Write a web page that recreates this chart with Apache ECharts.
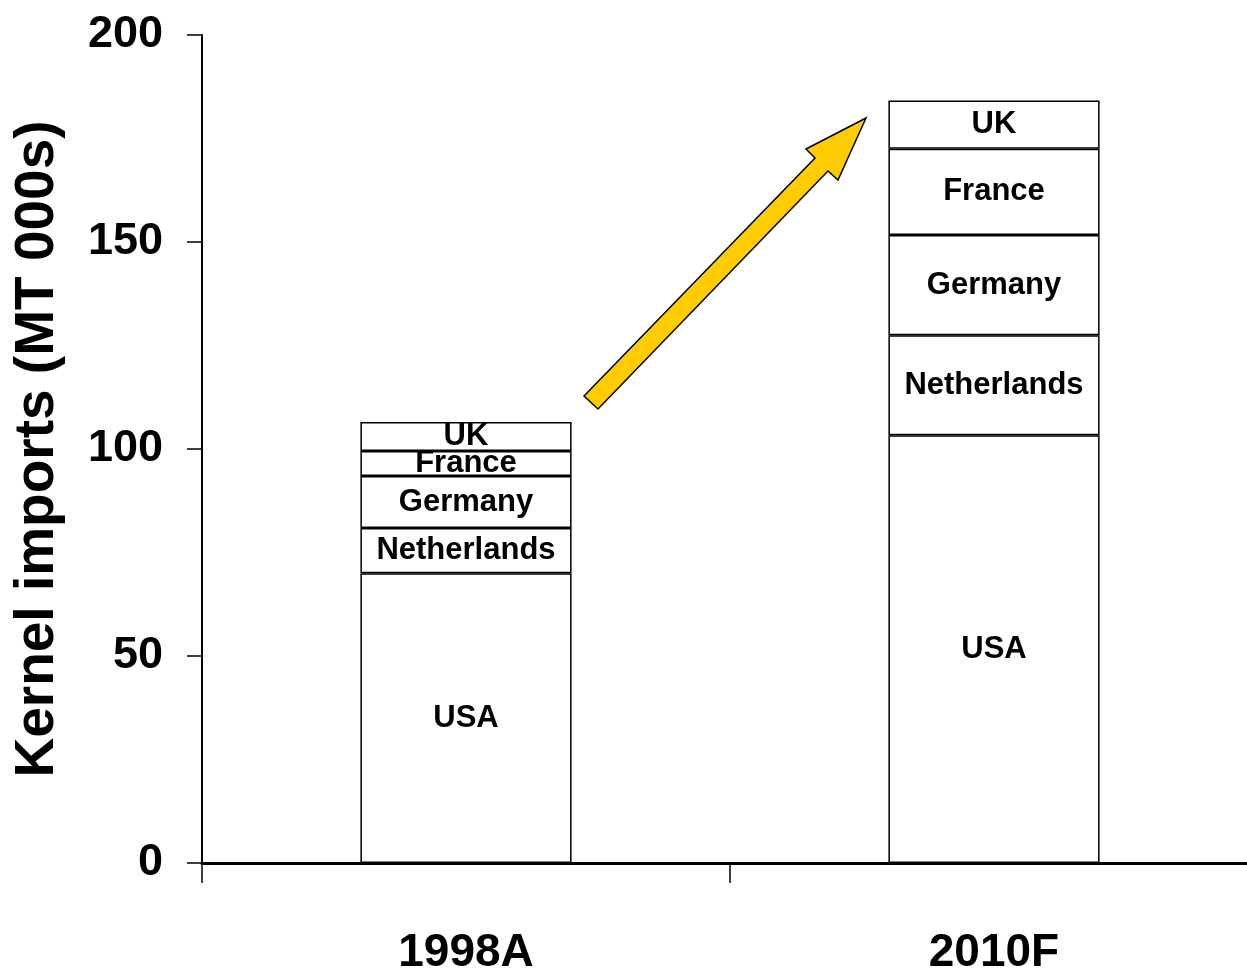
<!DOCTYPE html>
<html>

<head>
    <meta charset="UTF-8" />
    <title>Kernel imports</title>
    <script src="https://cdn.jsdelivr.net/npm/echarts@6/dist/echarts.min.js"></script>
    <style>
        html, body { margin: 0; padding: 0; background: #fff; }
        #main { width: 1247px; height: 974px; }
    </style>
</head>

<body>
    <div id="main"></div>
    <script>
    // data (MT 000s)
    var years = ['1998A', '2010F'];
    var countries = ['USA', 'Netherlands', 'Germany', 'France', 'UK'];
    var usa = [70.0, 103.3];
    var netherlands = [10.9, 24.2];
    var germany = [12.6, 24.2];
    var france = [6.0, 20.8];
    var uk = [7.0, 11.7];
    var yTicks = [0, 50, 100, 150, 200];

    var font = '"Liberation Sans", Arial, sans-serif';

    var values = [usa, netherlands, germany, france, uk];
    var mySeries = [];
    for (var i = 0; i < countries.length; i++) {
        mySeries.push({
            name: countries[i],
            type: 'bar',
            stack: 'total',
            barWidth: '40%',
            data: values[i],
            itemStyle: {
                color: '#ffffff',
                borderColor: '#000000',
                borderWidth: 1.5
            },
            label: {
                show: true,
                position: 'inside',
                formatter: countries[i],
                color: '#000',
                fontFamily: font,
                fontWeight: 'bold',
                fontSize: 31
            },
            emphasis: { disabled: true }
        });
    }

    var myChart = echarts.init(document.getElementById('main'));
    myChart.setOption({
        animation: false,
        grid: { left: 202, top: 35, bottom: 111, right: -11, containLabel: false, outerBoundsMode: 'none' },
        xAxis: {
            type: 'category',
            data: years,
            axisLine: { lineStyle: { color: '#000', width: 3 } },
            axisTick: { show: true, length: 20, lineStyle: { color: '#000', width: 1.5 } },
            axisLabel: {
                color: '#000',
                fontFamily: font,
                fontWeight: 'bold',
                fontSize: 46,
                margin: 67
            }
        },
        yAxis: {
            type: 'value',
            min: yTicks[0],
            max: yTicks[yTicks.length - 1],
            interval: 50,
            name: 'Kernel imports (MT 000s)',
            nameLocation: 'middle',
            nameGap: 137,
            nameRotate: 90,
            nameTextStyle: {
                color: '#000',
                fontFamily: font,
                fontWeight: 'bold',
                fontSize: 55
            },
            splitLine: { show: false },
            axisLine: { show: true, lineStyle: { color: '#000', width: 2 } },
            axisTick: { show: true, length: 15, lineStyle: { color: '#000', width: 1.5 } },
            axisLabel: {
                color: '#000',
                fontFamily: font,
                fontWeight: 'bold',
                fontSize: 45,
                margin: 39
            }
        },
        series: mySeries,
        graphic: [{
            type: 'polygon',
            shape: {
                points: [[584, 396], [815, 158], [806, 149], [866, 118], [838, 180], [828, 171], [598, 409]]
            },
            style: { fill: '#FFCC00', stroke: '#000', lineWidth: 1.5 },
            z: 10
        }]
    });
    </script>
</body>

</html>
